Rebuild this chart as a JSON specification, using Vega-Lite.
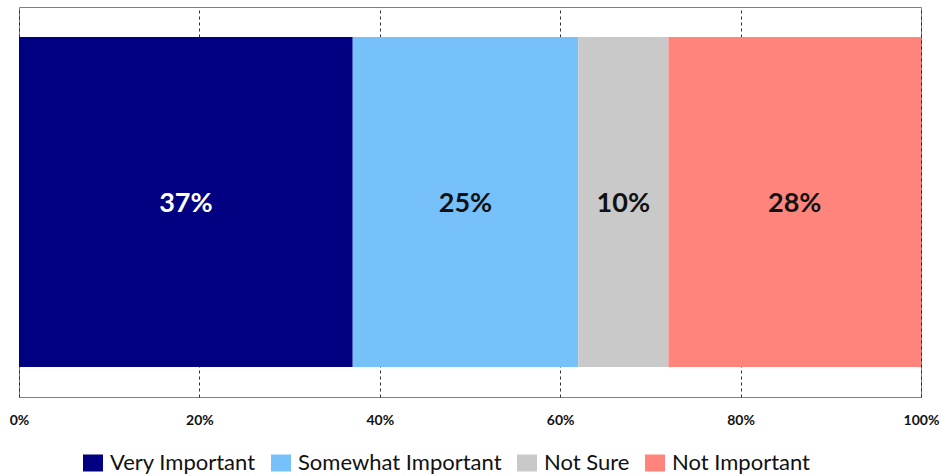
{
  "$schema": "https://vega.github.io/schema/vega-lite/v6.json",
  "width": 902,
  "height": 390,
  "autosize": "none",
  "padding": {"left": 19, "top": 7, "right": 20, "bottom": 79},
  "background": "white",
  "config": {
    "font": "Lato",
    "view": {"stroke": "#808080", "strokeWidth": 1}
  },
  "data": {
    "values": [
      {"question": "Q", "idx": 1, "response": "Very Important", "pct": 0.37},
      {"question": "Q", "idx": 2, "response": "Somewhat Important", "pct": 0.25},
      {"question": "Q", "idx": 3, "response": "Not Sure", "pct": 0.10},
      {"question": "Q", "idx": 4, "response": "Not Important", "pct": 0.28}
    ]
  },
  "transform": [
    {"stack": "pct", "groupby": ["question"], "sort": [{"field": "idx", "order": "ascending"}], "as": ["x0", "x1"]},
    {"calculate": "(datum.x0 + datum.x1) / 2", "as": "xmid"}
  ],
  "encoding": {
    "y": {
      "field": "question",
      "type": "nominal",
      "axis": null,
      "scale": {"paddingInner": 0, "paddingOuter": 0.0909}
    }
  },
  "layer": [
    {
      "mark": {"type": "bar"},
      "encoding": {
        "x": {
          "field": "x0",
          "type": "quantitative",
          "scale": {"domain": [0, 1], "nice": false},
          "axis": {
            "format": ".0%",
            "values": [0, 0.2, 0.4, 0.6, 0.8, 1],
            "title": null,
            "domain": false,
            "ticks": false,
            "grid": true,
            "gridColor": "#303030",
            "gridDash": [3, 3],
            "gridWidth": 1,
            "labelFont": "Lato",
            "labelFontSize": 14,
            "labelFontWeight": "bold",
            "labelColor": "#111111",
            "labelPadding": 16,
            "labelFlush": false
          }
        },
        "x2": {"field": "x1"},
        "color": {
          "field": "response",
          "type": "nominal",
          "sort": ["Very Important", "Somewhat Important", "Not Sure", "Not Important"],
          "scale": {
            "domain": ["Very Important", "Somewhat Important", "Not Sure", "Not Important"],
            "range": ["#000080", "#77C1FA", "#C9C9C9", "#FF857C"]
          },
          "legend": {
            "orient": "none",
            "direction": "horizontal",
            "legendX": 63,
            "legendY": 445,
            "title": null,
            "symbolType": "M-1,-0.85H1V0.85H-1Z",
            "symbolSize": 400,
            "symbolStrokeWidth": 0,
            "labelFont": "Lato",
            "labelFontSize": 22,
            "labelLimit": 400,
            "labelColor": "#111111",
            "labelOffset": 6,
            "columnPadding": 14
          }
        }
      }
    },
    {
      "mark": {"type": "text", "font": "Lato", "fontSize": 27, "fontWeight": "bold", "baseline": "middle", "align": "center", "dy": 2},
      "encoding": {
        "x": {"field": "xmid", "type": "quantitative"},
        "text": {"field": "pct", "type": "quantitative", "format": ".0%"},
        "color": {
          "condition": {"test": "datum.response === 'Very Important'", "value": "white"},
          "value": "#111111"
        }
      }
    }
  ]
}
